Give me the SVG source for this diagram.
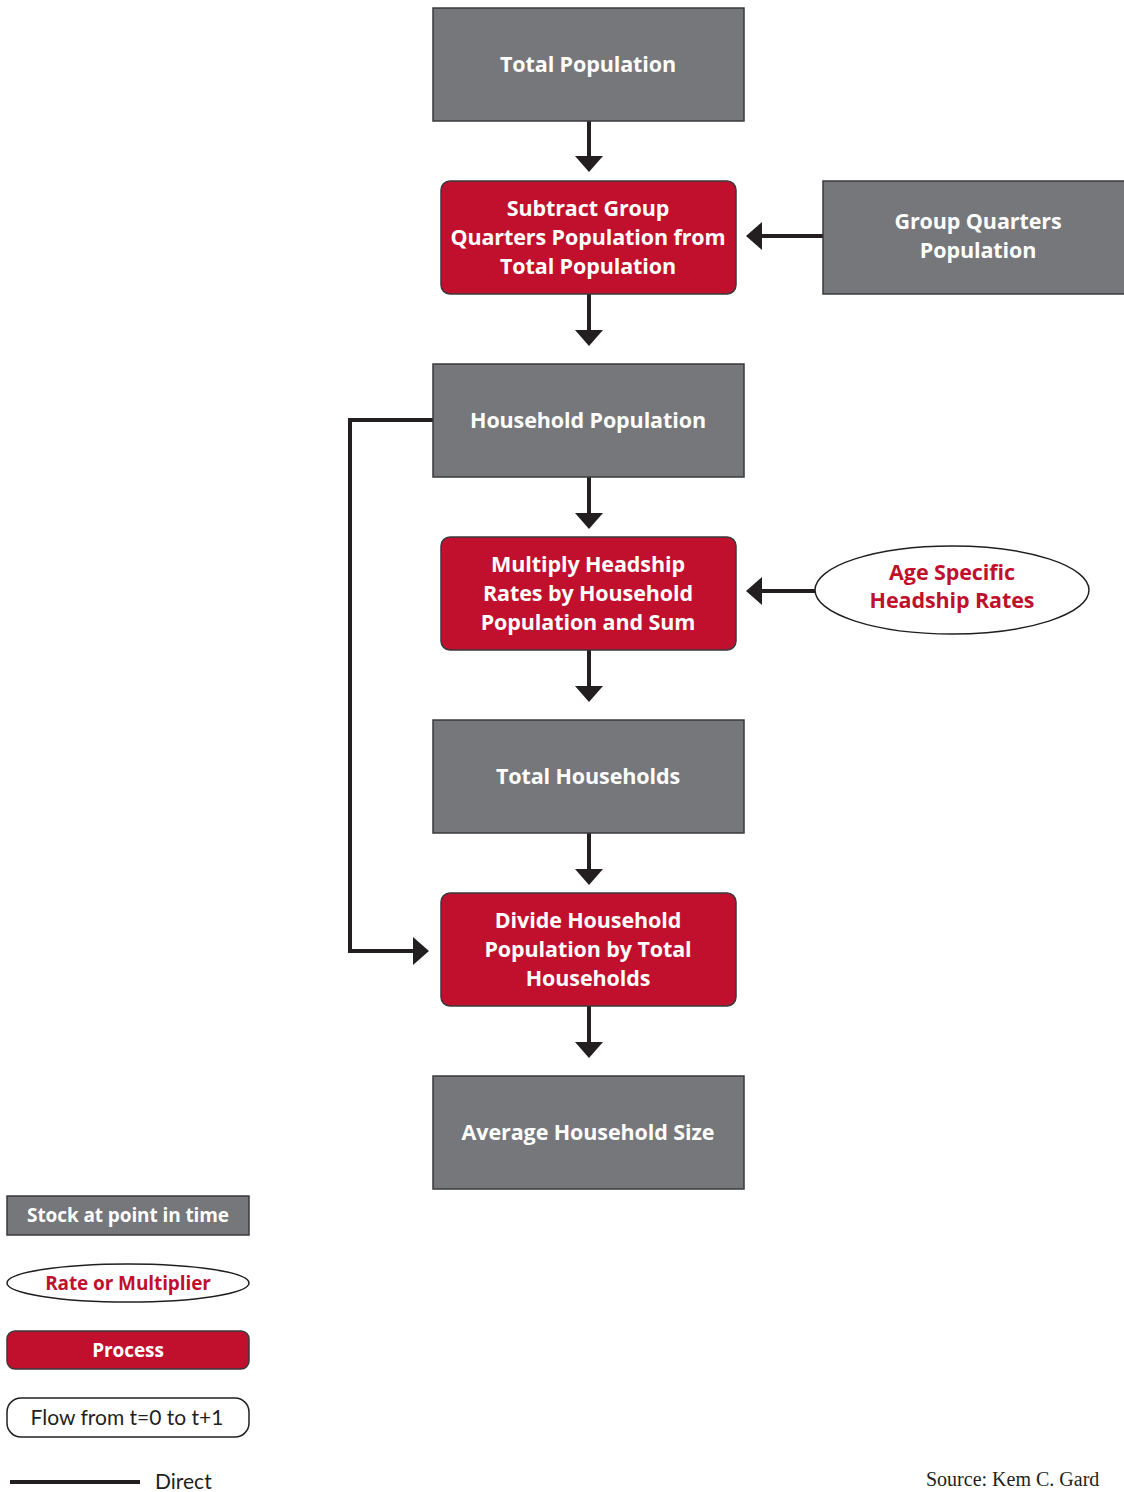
<svg xmlns="http://www.w3.org/2000/svg" width="1124" height="1492" viewBox="0 0 1124 1492">
<defs>
<style>
.stock{fill:#76777b;stroke:#3a3a3c;stroke-width:1.5}
.proc{fill:#c1102e;stroke:#3a3a3c;stroke-width:1.5}
.rate{fill:#fff;stroke:#231f20;stroke-width:1.5}
.wt{font-family:"Open Sans",Lato,sans-serif;font-weight:bold;font-size:21.5px;fill:#fff;text-anchor:middle;letter-spacing:-0.1px}
.rt{font-family:"Open Sans",Lato,sans-serif;font-weight:bold;font-size:21.5px;fill:#c1102e;text-anchor:middle;letter-spacing:-0.1px}
.lg{font-size:19px}
.conn{fill:none;stroke:#231f20;stroke-width:4}
.head{fill:#231f20}
</style>
</defs>
<rect width="1124" height="1492" fill="#fff"/>
<g id="connectors">
<path class="conn" d="M589 121V158"/><polygon class="head" points="575,156 603,156 589,172"/>
<path class="conn" d="M589 294V331"/><polygon class="head" points="575,330 603,330 589,346"/>
<path class="conn" d="M589 477V514"/><polygon class="head" points="575,513 603,513 589,529"/>
<path class="conn" d="M589 650V687"/><polygon class="head" points="575,686 603,686 589,702"/>
<path class="conn" d="M589 833V870"/><polygon class="head" points="575,869 603,869 589,885"/>
<path class="conn" d="M589 1006V1043"/><polygon class="head" points="575,1042 603,1042 589,1058"/>
<path class="conn" d="M823 236H760"/><polygon class="head" points="762,222 762,250 746,236"/>
<path class="conn" d="M815 591H760"/><polygon class="head" points="762,577 762,605 746,591"/>
<path class="conn" d="M433 420H350V951H415"/><polygon class="head" points="413,937 413,965 429,951"/>
</g>
<g id="total-population"><rect class="stock" x="433" y="8" width="311" height="113"/><text class="wt" x="588" y="72">Total Population</text></g>
<g id="subtract-gq"><rect class="proc" x="441" y="181" width="295" height="113" rx="9"/><text class="wt" x="588" y="216">Subtract Group</text><text class="wt" x="588" y="245">Quarters Population from</text><text class="wt" x="588" y="274">Total Population</text></g>
<g id="group-quarters"><rect class="stock" x="823" y="181" width="310" height="113"/><text class="wt" x="978" y="229">Group Quarters</text><text class="wt" x="978" y="258">Population</text></g>
<g id="household-population"><rect class="stock" x="433" y="364" width="311" height="113"/><text class="wt" x="588" y="428">Household Population</text></g>
<g id="multiply-headship"><rect class="proc" x="441" y="537" width="295" height="113" rx="9"/><text class="wt" x="588" y="572">Multiply Headship</text><text class="wt" x="588" y="601">Rates by Household</text><text class="wt" x="588" y="630">Population and Sum</text></g>
<g id="age-specific"><ellipse class="rate" cx="952" cy="590" rx="137" ry="44"/><text class="rt" x="952" y="580">Age Specific</text><text class="rt" x="952" y="608">Headship Rates</text></g>
<g id="total-households"><rect class="stock" x="433" y="720" width="311" height="113"/><text class="wt" x="588" y="784">Total Households</text></g>
<g id="divide"><rect class="proc" x="441" y="893" width="295" height="113" rx="9"/><text class="wt" x="588" y="928">Divide Household</text><text class="wt" x="588" y="957">Population by Total</text><text class="wt" x="588" y="986">Households</text></g>
<g id="average-household-size"><rect class="stock" x="433" y="1076" width="311" height="113"/><text class="wt" x="588" y="1140">Average Household Size</text></g>
<g id="legend">
<g id="legend-stock"><rect class="stock" x="7" y="1196" width="242" height="39"/><text class="wt lg" x="128" y="1222">Stock at point in time</text></g>
<g id="legend-rate"><ellipse class="rate" cx="128" cy="1283" rx="121" ry="19"/><text class="rt lg" x="128" y="1290">Rate or Multiplier</text></g>
<g id="legend-process"><rect class="proc" x="7" y="1331" width="242" height="38" rx="8"/><text class="wt lg" x="128" y="1357">Process</text></g>
<g id="legend-flow"><rect class="rate" x="7" y="1398" width="242" height="39" rx="14"/><text x="127" y="1425" font-family="Lato,'Open Sans',sans-serif" font-size="21" fill="#231f20" text-anchor="middle">Flow from t=0 to t+1</text></g>
<g id="legend-direct"><path d="M10 1482H140" stroke="#231f20" stroke-width="4"/><text x="155" y="1489" font-family="Lato,'Open Sans',sans-serif" font-size="21" fill="#231f20">Direct</text></g>
</g>
<text x="926" y="1486" font-family="'Liberation Serif',serif" font-size="20" fill="#231f20">Source: Kem C. Gard</text>
</svg>
